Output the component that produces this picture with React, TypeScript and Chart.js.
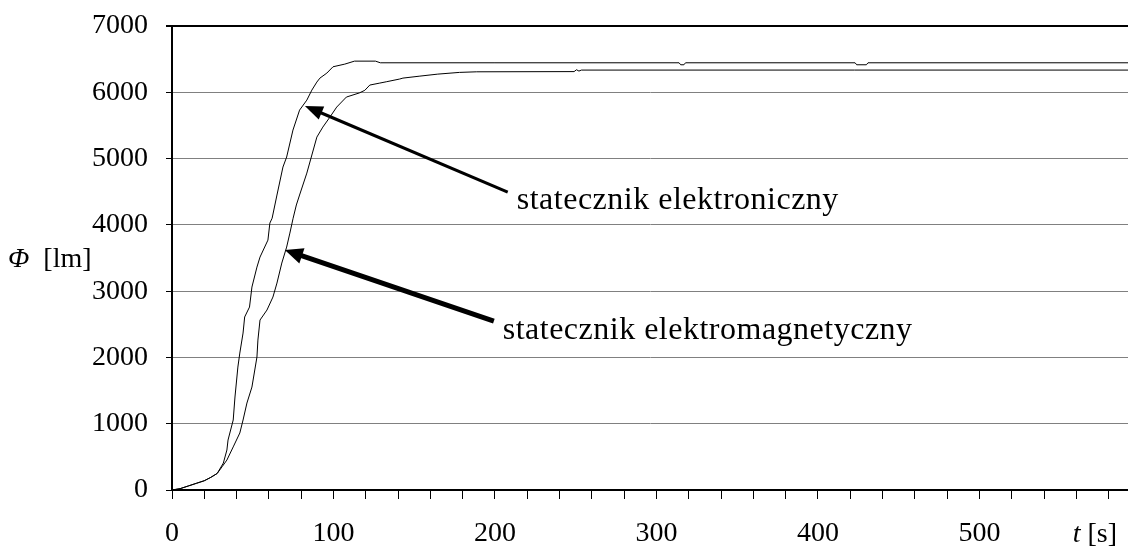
import React, { useEffect, useRef } from "react";
import { Chart, registerables } from "chart.js";

Chart.register(...registerables);

// Time [s] and luminous flux [lm] – electronic ballast (faster curve)
const electronicT = [0, 5, 10, 15, 20, 24, 28, 31.8, 34, 34.7, 37.9, 39, 40.8, 42, 44, 45, 48, 49.5, 52.6, 54.5, 59.4, 60.6, 62, 65, 68.7, 71, 74.9, 79, 83.5, 86.6, 89.7, 91.6, 95.9, 99.7, 107, 113, 126, 129, 200, 314, 315, 317, 318, 423, 424, 430, 431, 592];
const electronicPhi = [0, 20, 60, 100, 140, 190, 250, 407, 603, 754, 1056, 1403, 1855, 2066, 2368, 2610, 2760, 3062, 3363, 3514, 3770, 4027, 4100, 4450, 4872, 5023, 5430, 5731, 5882, 6033, 6154, 6214, 6290, 6385, 6425, 6470, 6470, 6445, 6445, 6445, 6415, 6415, 6445, 6445, 6415, 6415, 6445, 6445];

// Electromagnetic ballast (slower curve)
const magneticT = [0, 5, 10, 15, 20, 24, 28, 31, 34, 37.9, 42, 44, 46.4, 49.5, 52.6, 53.2, 54.5, 58.8, 62.5, 65, 68, 71, 73, 75, 77, 79, 83.5, 89.7, 93.4, 97.8, 102, 108, 116, 119.4, 122.5, 128.7, 133, 141, 143, 153.5, 164.6, 178, 188.7, 249, 250.5, 252, 253.5, 592];
const magneticPhi = [0, 20, 60, 100, 140, 190, 250, 350, 452, 650, 860, 1056, 1312, 1553, 2006, 2262, 2564, 2715, 2911, 3122, 3424, 3665, 3876, 4100, 4300, 4450, 4781, 5324, 5475, 5626, 5777, 5928, 5990, 6030, 6109, 6139, 6160, 6200, 6214, 6244, 6274, 6300, 6309, 6312, 6340, 6320, 6335, 6335];

const xLabels = [0, 100, 200, 300, 400, 500];
const yMin = 0;
const yMax = 7000;
const xMin = 0;
const xMax = 592;

const labelElectronic = "statecznik elektroniczny";
const labelMagnetic = "statecznik elektromagnetyczny";

// annotation anchors in data units (t, Φ)
const arrowElectronic = { tail: [207.9, 4495], tip: [82.3, 5793], text: [213.5, 4239] };
const arrowMagnetic = { tail: [199.3, 2549], tip: [69.9, 3620], text: [204.8, 2278] };

const FONT = "'Liberation Serif', 'Times New Roman', serif";

function drawArrow(ctx: CanvasRenderingContext2D, x1: number, y1: number, x2: number, y2: number, w: number, headLen: number, headHalf: number) {
  const ang = Math.atan2(y2 - y1, x2 - x1);
  const bx = x2 - Math.cos(ang) * headLen;
  const by = y2 - Math.sin(ang) * headLen;
  ctx.save();
  ctx.strokeStyle = "#000";
  ctx.fillStyle = "#000";
  ctx.lineWidth = w;
  ctx.lineCap = "butt";
  ctx.beginPath();
  ctx.moveTo(x1, y1);
  ctx.lineTo(bx + Math.cos(ang) * 2, by + Math.sin(ang) * 2);
  ctx.stroke();
  ctx.beginPath();
  ctx.moveTo(x2, y2);
  ctx.lineTo(bx + Math.sin(ang) * headHalf, by - Math.cos(ang) * headHalf);
  ctx.lineTo(bx - Math.sin(ang) * headHalf, by + Math.cos(ang) * headHalf);
  ctx.closePath();
  ctx.fill();
  ctx.restore();
}

const annotationPlugin = {
  id: "annotations",
  afterDraw(chart: any) {
    const { ctx, scales, chartArea } = chart;
    const x = scales.x;
    const y = scales.y;
    const px = (p: number[]) => [x.getPixelForValue(p[0]), y.getPixelForValue(p[1])];

    const a1t = px(arrowElectronic.tail), a1h = px(arrowElectronic.tip);
    drawArrow(ctx, a1t[0], a1t[1], a1h[0], a1h[1], 3, 18, 7);
    const a2t = px(arrowMagnetic.tail), a2h = px(arrowMagnetic.tip);
    drawArrow(ctx, a2t[0], a2t[1], a2h[0], a2h[1], 5, 18, 8);

    ctx.save();
    ctx.fillStyle = "#000";
    ctx.textBaseline = "alphabetic";
    ctx.textAlign = "left";
    ctx.font = `32px ${FONT}`;
    (ctx as any).letterSpacing = "0.5px";
    const t1 = px(arrowElectronic.text);
    ctx.fillText(labelElectronic, t1[0], t1[1]);
    const t2 = px(arrowMagnetic.text);
    ctx.fillText(labelMagnetic, t2[0], t2[1]);
    (ctx as any).letterSpacing = "0px";

    // y axis title: Φ [lm]
    const yTitleBase = chartArea.top + 241;
    ctx.font = `italic 28px ${FONT}`;
    ctx.fillText("Φ", 8, yTitleBase);
    const phiW = ctx.measureText("Φ").width;
    ctx.font = `28px ${FONT}`;
    ctx.fillText("  [lm]", 8 + phiW, yTitleBase);

    // x axis title: t [s]
    const xTitleBase = chartArea.bottom + 52;
    ctx.font = `28px ${FONT}`;
    const sW = ctx.measureText(" [s]").width;
    ctx.font = `italic 28px ${FONT}`;
    const tW = ctx.measureText("t").width;
    const startX = chart.width - 11 - sW - tW;
    ctx.fillText("t", startX, xTitleBase);
    ctx.font = `28px ${FONT}`;
    ctx.fillText(" [s]", startX + tW, xTitleBase);
    ctx.restore();
  },
};

export default function App() {
  const canvasRef = useRef<HTMLCanvasElement | null>(null);

  useEffect(() => {
    const canvas = canvasRef.current;
    if (!canvas) return;
    const chart = new Chart(canvas, {
      type: "line",
      data: {
        datasets: [
          {
            label: labelElectronic,
            data: electronicT.map((t, i) => ({ x: t, y: electronicPhi[i] })),
            borderColor: "#000",
            borderWidth: 1,
            pointRadius: 0,
            tension: 0,
            fill: false,
          },
          {
            label: labelMagnetic,
            data: magneticT.map((t, i) => ({ x: t, y: magneticPhi[i] })),
            borderColor: "#000",
            borderWidth: 1,
            pointRadius: 0,
            tension: 0,
            fill: false,
          },
        ],
      },
      options: {
        responsive: false,
        animation: false,
        events: [],
        layout: { padding: { top: 26, right: 0, left: 0, bottom: 0 } },
        plugins: { legend: { display: false }, tooltip: { enabled: false }, title: { display: false } },
        scales: {
          x: {
            type: "linear",
            min: xMin,
            max: xMax,
            afterFit: (s: any) => { s.height = 59; s.paddingLeft = 0; s.paddingRight = 0; },
            border: { display: true, color: "#000", width: 2 },
            grid: { drawOnChartArea: false, drawTicks: true, tickLength: 9, color: "#000", lineWidth: 1 },
            ticks: {
              stepSize: 20,
              includeBounds: false,
              autoSkip: false,
              maxRotation: 0,
              padding: 18,
              color: "#000",
              font: { family: FONT, size: 28 },
              callback: (v: any) => (xLabels.includes(Number(v)) ? String(v) : ""),
            },
          },
          y: {
            min: yMin,
            max: yMax,
            afterFit: (s: any) => { s.width = 172; s.paddingTop = 0; s.paddingBottom = 0; },
            border: { display: true, color: "#000", width: 2 },
            grid: {
              drawOnChartArea: true,
              drawTicks: true,
              tickLength: 6,
              tickColor: "#000",
              color: (c: any) => (c.tick && c.tick.value === yMax ? "#000" : "#808080"),
              lineWidth: (c: any) => (c.tick && c.tick.value === yMax ? 2 : 1),
            },
            ticks: {
              stepSize: 1000,
              padding: 18,
              color: "#000",
              font: { family: FONT, size: 28 },
              callback: (v: any) => String(v),
            },
          },
        },
      },
      plugins: [annotationPlugin],
    });
    return () => chart.destroy();
  }, []);

  return (
    <div style={{ position: "absolute", left: 0, top: 0, width: 1128, height: 549, background: "#fff" }}>
      <canvas ref={canvasRef} width={1128} height={549} style={{ display: "block" }} />
    </div>
  );
}
